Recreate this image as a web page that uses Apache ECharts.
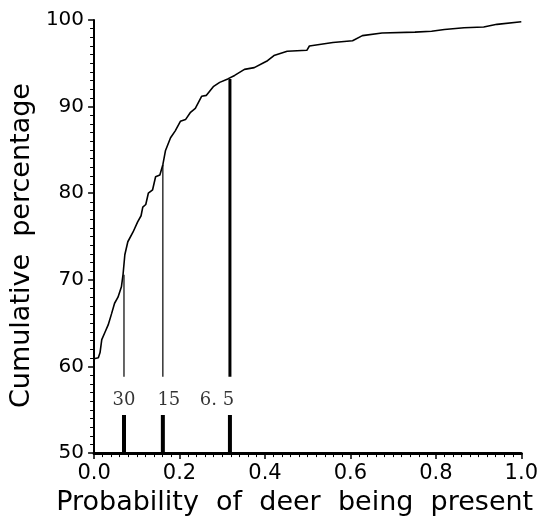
<!DOCTYPE html>
<html>
<head>
<meta charset="utf-8">
<script src="https://cdn.jsdelivr.net/npm/echarts@6/dist/echarts.min.js"></script>
<style>
  html, body { margin: 0; padding: 0; background: #fff; }
  #chart { width: 541px; height: 521px; }
</style>
</head>
<body>
<div id="chart"></div>
<script>
// cumulative curve
const probX = [0, 0.01, 0.014, 0.018, 0.025, 0.033, 0.041, 0.048, 0.056, 0.064, 0.068, 0.072,
  0.079, 0.091, 0.102, 0.11, 0.114, 0.121, 0.127, 0.137, 0.144, 0.154, 0.161, 0.167, 0.179,
  0.19, 0.202, 0.214, 0.225, 0.237, 0.252, 0.263, 0.279, 0.294, 0.313, 0.329, 0.352, 0.375,
  0.398, 0.406, 0.421, 0.452, 0.498, 0.504, 0.559, 0.605, 0.628, 0.674, 0.751, 0.79, 0.82,
  0.866, 0.912, 0.943, 1.0]
const cumPct = [60.9, 61.0, 61.6, 63.1, 63.9, 64.8, 66.1, 67.3, 68.0, 69.2, 70.7, 72.9,
  74.4, 75.5, 76.7, 77.4, 78.4, 78.7, 80.0, 80.4, 81.9, 82.1, 83.3, 84.9, 86.4,
  87.2, 88.3, 88.5, 89.3, 89.8, 91.2, 91.3, 92.3, 92.8, 93.2, 93.6, 94.3, 94.5,
  95.1, 95.3, 95.9, 96.4, 96.5, 97.0, 97.4, 97.6, 98.2, 98.5, 98.6, 98.7, 98.9,
  99.1, 99.2, 99.5, 99.8]

// threshold markers
const cutLabels = ['30', '15', '6. 5']
const cutX = [0.07, 0.161, 0.318]
const cutTop = [70.6, 83.3, 93.2]
const cutBottom = [58.8, 58.8, 58.8]
const stubTop = [54.4, 54.4, 54.4]
const labelY = [56.1, 56.1, 56.1]

const xTicks = [0, 0.2, 0.4, 0.6, 0.8, 1.0]
const yTicks = [50, 60, 70, 80, 90, 100]

// styles kept apart from the values
const cutWidths = [1.2, 1.2, 3]
const labelShift = [0, 6, -13]

const chart = echarts.init(document.getElementById('chart'), null, { renderer: 'canvas' })

const sans = 'DejaVu Sans'
const black = '#000'

const series = [
  {
    name: 'curve',
    type: 'line',
    data: probX.map((x, i) => [x, cumPct[i]]),
    showSymbol: false,
    symbol: 'none',
    lineStyle: { color: black, width: 1.6 },
    z: 5
  }
]

cutX.forEach((x, i) => {
  series.push({
    type: 'line',
    data: [[x, cutBottom[i]], [x, cutTop[i]]],
    symbol: 'none',
    lineStyle: { color: black, width: cutWidths[i] }
  })
  series.push({
    type: 'line',
    data: [[x, yTicks[0]], [x, stubTop[i]]],
    symbol: 'none',
    lineStyle: { color: black, width: 4 }
  })
})

series.push({
  type: 'scatter',
  symbolSize: 0,
  data: cutX.map((x, i) => ({
    value: [x, labelY[i]],
    name: cutLabels[i],
    label: { offset: [labelShift[i], 0] }
  })),
  label: {
    show: true,
    position: 'inside',
    formatter: p => p.name,
    fontFamily: 'DejaVu Serif',
    fontSize: 18,
    color: black
  },
  silent: true
})

const option = {
  backgroundColor: '#fff',
  animation: false,
  grid: { left: 94, right: 13, top: 20, bottom: 59, containLabel: false },
  xAxis: {
    type: 'value',
    min: xTicks[0],
    max: xTicks[xTicks.length - 1],
    interval: xTicks[1] - xTicks[0],
    name: 'Probability  of  deer  being  present',
    nameLocation: 'middle',
    nameGap: 33,
    nameTextStyle: { fontFamily: sans, fontSize: 27, color: black, padding: [0, 26, 0, 0] },
    axisLine: { lineStyle: { color: black, width: 3 } },
    axisTick: { length: 6, lineStyle: { color: black, width: 1.5 } },
    minorTick: { show: true, splitNumber: 10, length: 4, lineStyle: { color: black, width: 1 } },
    axisLabel: {
      formatter: v => v.toFixed(1),
      fontFamily: sans, fontSize: 21, color: black, margin: 10
    },
    splitLine: { show: false }
  },
  yAxis: {
    type: 'value',
    min: yTicks[0],
    max: yTicks[yTicks.length - 1],
    interval: yTicks[1] - yTicks[0],
    name: 'Cumulative  percentage',
    nameLocation: 'middle',
    nameGap: 52,
    nameTextStyle: { fontFamily: sans, fontSize: 27, color: black, padding: [0, 18, 0, 0] },
    axisLine: { lineStyle: { color: black, width: 2 } },
    axisTick: { length: 6, lineStyle: { color: black, width: 1.5 } },
    minorTick: { show: true, splitNumber: 10, length: 4, lineStyle: { color: black, width: 1 } },
    axisLabel: { fontFamily: sans, fontSize: 20, color: black, margin: 10 },
    splitLine: { show: false }
  },
  series: series
}

chart.setOption(option)
</script>
</body>
</html>
